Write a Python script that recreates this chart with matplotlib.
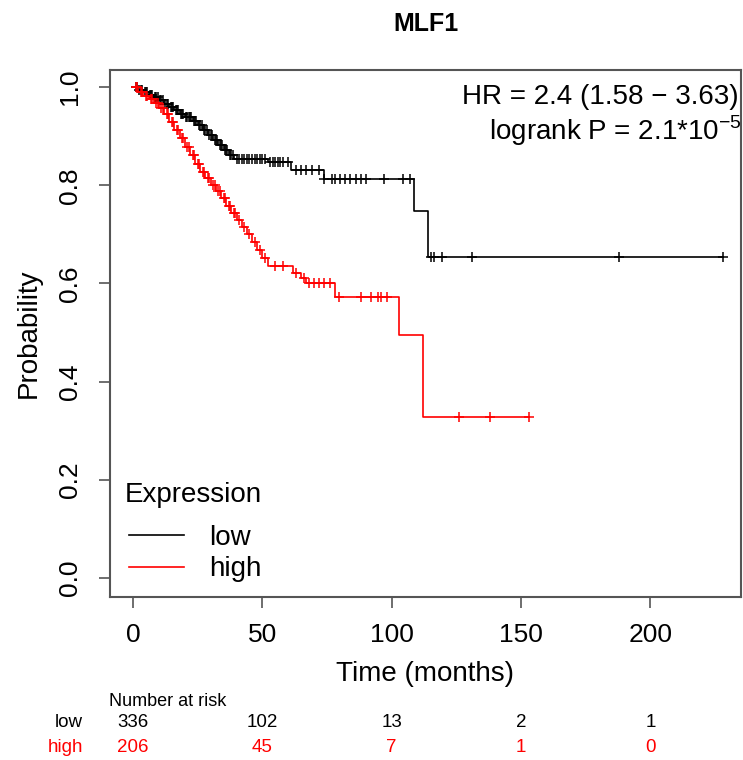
import numpy as np
import matplotlib
matplotlib.use("Agg")
from matplotlib import pyplot as plt

plt.rcParams["font.family"] = ["Liberation Sans", "DejaVu Sans"]
plt.rcParams["mathtext.fontset"] = "custom"
plt.rcParams["mathtext.rm"] = "Liberation Sans"

TITLE = "MLF1"
HR_TEXT = "HR = 2.4 (1.58 \u2212 3.63)"
P_TEXT = "logrank P = 2.1*10$^{-5}$"

# low expression group: event times (months) and survival after each event
low_t = [0, 2, 4, 6, 8, 10, 12, 14, 16, 18, 20, 23, 25, 27, 29, 31, 33, 35, 37, 39,
         52, 61, 74, 108.5, 114]
low_s = [1.0, 0.995, 0.99, 0.985, 0.979, 0.973, 0.966, 0.96, 0.953, 0.946, 0.94, 0.931,
         0.922, 0.912, 0.902, 0.893, 0.882, 0.871, 0.861, 0.853, 0.847, 0.831, 0.812,
         0.747, 0.653]
low_cens = [1, 1.5, 2.5, 3, 3.5, 4.5, 5, 5.5, 6.5, 7, 7.5, 8.5, 9, 9.5, 10.5, 11, 11.5,
            12.5, 13, 13.5, 14.5, 15, 15.5, 16.5, 17, 17.5, 18.5, 19, 19.5, 20.5, 21,
            21.5, 22, 22.5, 23.5, 24, 24.5, 25.5, 26, 26.5, 27.5, 28, 28.5, 29.5, 30,
            30.5, 31.5, 32, 32.5, 33.5, 34, 34.5, 35.5, 36, 36.5, 37.5, 38, 38.5,
            40, 41, 42, 43, 44, 45, 46, 47, 48, 49, 50, 51, 53, 54, 55, 56, 57, 58, 60,
            63, 65, 67, 69, 72, 74, 77, 78, 80, 82, 84, 86, 88, 90, 97, 104.5, 107,
            115, 116.3, 119.5, 131, 188, 228]
low_end = 228

# high expression group
high_t = [0, 2, 4, 6, 8, 10, 12, 14, 16, 18, 20, 22, 24, 26, 28, 30, 32, 34, 36, 38,
          40, 42, 44, 46, 48, 50, 52, 62, 65, 67, 78, 103, 112]
high_s = [1.0, 0.99, 0.983, 0.975, 0.967, 0.958, 0.946, 0.93, 0.913, 0.896, 0.878, 0.861,
          0.844, 0.828, 0.814, 0.801, 0.789, 0.774, 0.758, 0.744, 0.73, 0.716, 0.7, 0.684,
          0.668, 0.652, 0.636, 0.622, 0.611, 0.600, 0.573, 0.494, 0.327]
high_cens = [1, 1.5, 3, 3.5, 5, 5.5, 7, 7.5, 9, 9.5, 11, 11.5, 13, 13.5, 15, 15.5, 17,
             17.5, 19, 19.5, 21, 21.5, 23, 23.5, 25, 25.5, 27, 27.5, 29, 29.5, 31, 31.5,
             33, 33.5, 35, 35.5, 37, 37.5, 39, 39.5, 41, 43, 45, 47, 49, 51, 55, 58, 63,
             66, 68, 70, 72, 74, 76, 79.5, 88, 92, 94.5, 96, 98, 126, 138, 153]
high_end = 153

risk_times = [0, 50, 100, 150, 200]
risk_low = [336, 102, 13, 2, 1]
risk_high = [206, 45, 7, 1, 0]

LOW_COL = "black"
HIGH_COL = "#ff0000"


def surv_at(t, s, x):
    idx = np.searchsorted(np.asarray(t), np.asarray(x), side="right") - 1
    return np.asarray(s)[idx]


fig = plt.figure(figsize=(7.43, 7.6), dpi=100)
ax = fig.add_axes([110 / 743, 1 - 597 / 760, 631 / 743, 527 / 760])

for t, s, cens, tend, col, lab in [(low_t, low_s, low_cens, low_end, LOW_COL, "low"),
                                   (high_t, high_s, high_cens, high_end, HIGH_COL, "high")]:
    ax.step(t + [tend], s + [s[-1]], where="post", color=col, lw=1.2, label=lab)
    ax.plot(cens, surv_at(t, s, cens), ls="none", marker="+", ms=7, mew=1.1, color=col)

ax.set_xlim(-8.9, 235)
ax.set_ylim(-0.039, 1.035)
ax.set_xticks([0, 50, 100, 150, 200])
ax.set_yticks([0.0, 0.2, 0.4, 0.6, 0.8, 1.0])
ax.set_yticklabels(["0.0", "0.2", "0.4", "0.6", "0.8", "1.0"], rotation=90, va="center")
ax.tick_params(length=8, width=1.2, color="#555555", labelsize=19, pad=10.5)
ax.tick_params(axis="y", pad=12)
for sp in ax.spines.values():
    sp.set_color("#555555")
    sp.set_linewidth(1.5)

ax.set_xlabel("Time (months)", fontsize=20, labelpad=10)
ax.set_ylabel("Probability", fontsize=20, labelpad=12)
fig.text(426 / 743, 1 - 24 / 760, TITLE, ha="center", va="center", fontsize=18, fontweight="bold")

fig.text(739 / 743, 1 - 97 / 760, HR_TEXT, ha="right", va="center", fontsize=20)
fig.text(742 / 743, 1 - 131 / 760, P_TEXT, ha="right", va="center", fontsize=20)

# legend: title drawn separately so its gap to the entries can differ
ax.text(0.024, 0.1935, "Expression", transform=ax.transAxes, ha="left", va="center", fontsize=20)
ax.legend(loc="lower left", bbox_to_anchor=(0.012, 0.0067), frameon=False, fontsize=20,
          handlelength=2.0, handletextpad=0.9, labelspacing=0.186, borderaxespad=0)

# number at risk table
trans = ax.get_xaxis_transform()
ax.text(-9.3, -0.199, "Number at risk", transform=trans, ha="left", va="center",
        fontsize=13, clip_on=False)
ax.text(-19.4, -0.239, "low", transform=trans, ha="right", va="center", fontsize=13.5,
        color=LOW_COL, clip_on=False)
ax.text(-19.4, -0.2865, "high", transform=trans, ha="right", va="center", fontsize=13.5,
        color=HIGH_COL, clip_on=False)
for x, nl, nh in zip(risk_times, risk_low, risk_high):
    ax.text(x, -0.239, str(nl), transform=trans, ha="center", va="center", fontsize=13.5,
            color=LOW_COL, clip_on=False)
    ax.text(x, -0.2865, str(nh), transform=trans, ha="center", va="center", fontsize=13.5,
            color=HIGH_COL, clip_on=False)

fig.savefig("out.png", dpi=100)
